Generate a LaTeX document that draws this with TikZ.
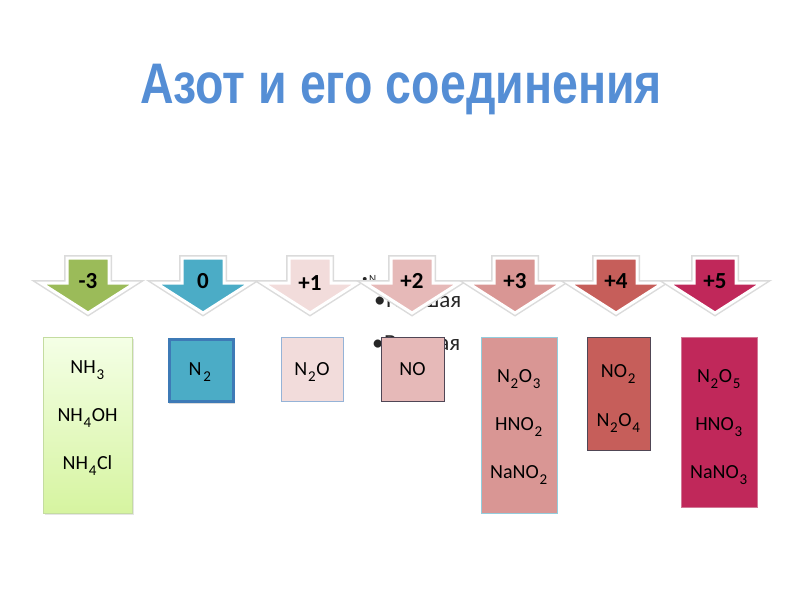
\documentclass[tikz,border=0pt]{standalone}
\usepackage{fontspec}
\setmainfont{Carlito}
\newfontfamily\titlefont{Liberation Sans}
\definecolor{titleblue}{RGB}{85,142,213}
\definecolor{cgreen}{RGB}{155,187,89}
\definecolor{cteal}{RGB}{75,172,198}
\definecolor{cp1}{RGB}{242,220,219}
\definecolor{cp2}{RGB}{230,185,184}
\definecolor{cp3}{RGB}{217,150,148}
\definecolor{cp4}{RGB}{198,94,90}
\definecolor{cp5}{RGB}{192,40,90}
\definecolor{boxgtop}{RGB}{244,255,230}
\definecolor{boxgbot}{RGB}{214,244,160}
\definecolor{boxgedge}{RGB}{196,220,160}
\definecolor{n2edge}{RGB}{62,122,182}
\definecolor{lightblueedge}{RGB}{149,179,215}
\definecolor{cyanedge}{RGB}{147,205,221}
\definecolor{darkedge}{RGB}{80,70,85}
\definecolor{p5edge}{RGB}{210,120,150}
\newcommand\sbs[1]{\kern0.8pt\raisebox{-6pt}{\fontsize{15}{15}\selectfont #1}\kern0.5pt}
\newcommand\ArrowShape[2]{%
  \path[draw=black!14, line width=6pt, line join=miter]
    ({#1-21},258) -- ({#1+21},258) -- ({#1+21},283) -- ({#1+47},283) -- (#1,313)
    -- ({#1-47},283) -- ({#1-21},283) -- cycle;
  \path[fill=#2, draw=white, line width=3pt, line join=miter]
    ({#1-21},258) -- ({#1+21},258) -- ({#1+21},283) -- ({#1+47},283) -- (#1,313)
    -- ({#1-47},283) -- ({#1-21},283) -- cycle;
}
\begin{document}
\begin{tikzpicture}[x=1pt,y=-1pt,
  lab/.style={font=\fontsize{23}{23}\selectfont\bfseries, inner sep=0pt, anchor=base},
  chem/.style={font=\fontsize{20}{20}\selectfont, inner sep=0pt, anchor=base},
  bul/.style={inner sep=0pt, anchor=base west, text=black!85},
  cbox/.style={anchor=north west, inner sep=0pt, line width=1pt},
]
\useasboundingbox (0,0) rectangle (800,600);

% title
\node[anchor=base, inner sep=0pt, text=titleblue,
      font=\titlefont\bfseries\fontsize{46.5}{46.5}\selectfont] (title) at (401,103)
      {\scalebox{1}[1.23]{Азот и его соединения}};

% partly hidden bullet text
\node[bul, font=\fontsize{11}{11}\selectfont] (b1) at (362,282) {•\kern1.5ptN};
\node[bul, font=\fontsize{23}{23}\selectfont] (b2) at (374,307) {•\kern0.5ptНизшая};
\node[bul, font=\fontsize{23}{23}\selectfont] (b3) at (372,350) {•\kern0.5ptВысшая};

% arrows
\ArrowShape{88}{cgreen}
\ArrowShape{203}{cteal}
\ArrowShape{310}{cp1}
\ArrowShape{412}{cp2}
\ArrowShape{515}{cp3}
\ArrowShape{616}{cp4}
\ArrowShape{715}{cp5}
\node[lab] (am3) at (88,288) {-3};
\node[lab] (a0) at (203,288) {0};
\node[lab] (ap1) at (310,290) {+1};
\node[lab] (ap2) at (412,288) {+2};
\node[lab] (ap3) at (515,288) {+3};
\node[lab] (ap4) at (616,288) {+4};
\node[lab] (ap5) at (715,288) {+5};

% boxes
\fill[black!10] (45,339) rectangle (134,515);
\node[cbox, draw=boxgedge, top color=boxgtop, bottom color=boxgbot,
      minimum width=89pt, minimum height=176pt] (bm3) at (43,337) {};
\fill[black!14] (169,340) rectangle (235,404);
\node[cbox, draw=n2edge, line width=3pt, fill=cteal,
      minimum width=64pt, minimum height=62pt] (b0) at (168,338) {};
\node[cbox, draw=lightblueedge, fill=cp1,
      minimum width=62pt, minimum height=64pt] (bp1) at (281,337) {};
\node[cbox, draw=darkedge, fill=cp2,
      minimum width=63pt, minimum height=64pt] (bp2) at (381,337) {};
\node[cbox, draw=cyanedge, fill=cp3,
      minimum width=76pt, minimum height=176pt] (bp3) at (481,337) {};
\node[cbox, draw=darkedge, fill=cp4,
      minimum width=63pt, minimum height=113pt] (bp4) at (587,337) {};
\node[cbox, draw=p5edge, fill=cp5,
      minimum width=76pt, minimum height=170pt] (bp5) at (681,337) {};

% formulas
\node[chem] (t1) at (87.5,373) {NH\sbs{3}};
\node[chem] (t2) at (87.5,421) {NH\sbs{4}OH};
\node[chem] (t3) at (87.5,469) {NH\sbs{4}Cl};
\node[chem] (t4) at (200,375) {N\kern1pt\sbs{2}};
\node[chem] (t5) at (312,375) {N\sbs{2}O};
\node[chem] (t6) at (412.5,375) {NO};
\node[chem] (t7) at (519,382) {N\sbs{2}O\sbs{3}};
\node[chem] (t8) at (519,430) {HNO\sbs{2}};
\node[chem] (t9) at (519,478) {NaNO\sbs{2}};
\node[chem] (t10) at (618.5,377) {NO\sbs{2}};
\node[chem] (t11) at (618.5,426) {N\sbs{2}O\sbs{4}};
\node[chem] (t12) at (719,382) {N\sbs{2}O\sbs{5}};
\node[chem] (t13) at (719,430) {HNO\sbs{3}};
\node[chem] (t14) at (719,478) {NaNO\sbs{3}};
\end{tikzpicture}
\end{document}
